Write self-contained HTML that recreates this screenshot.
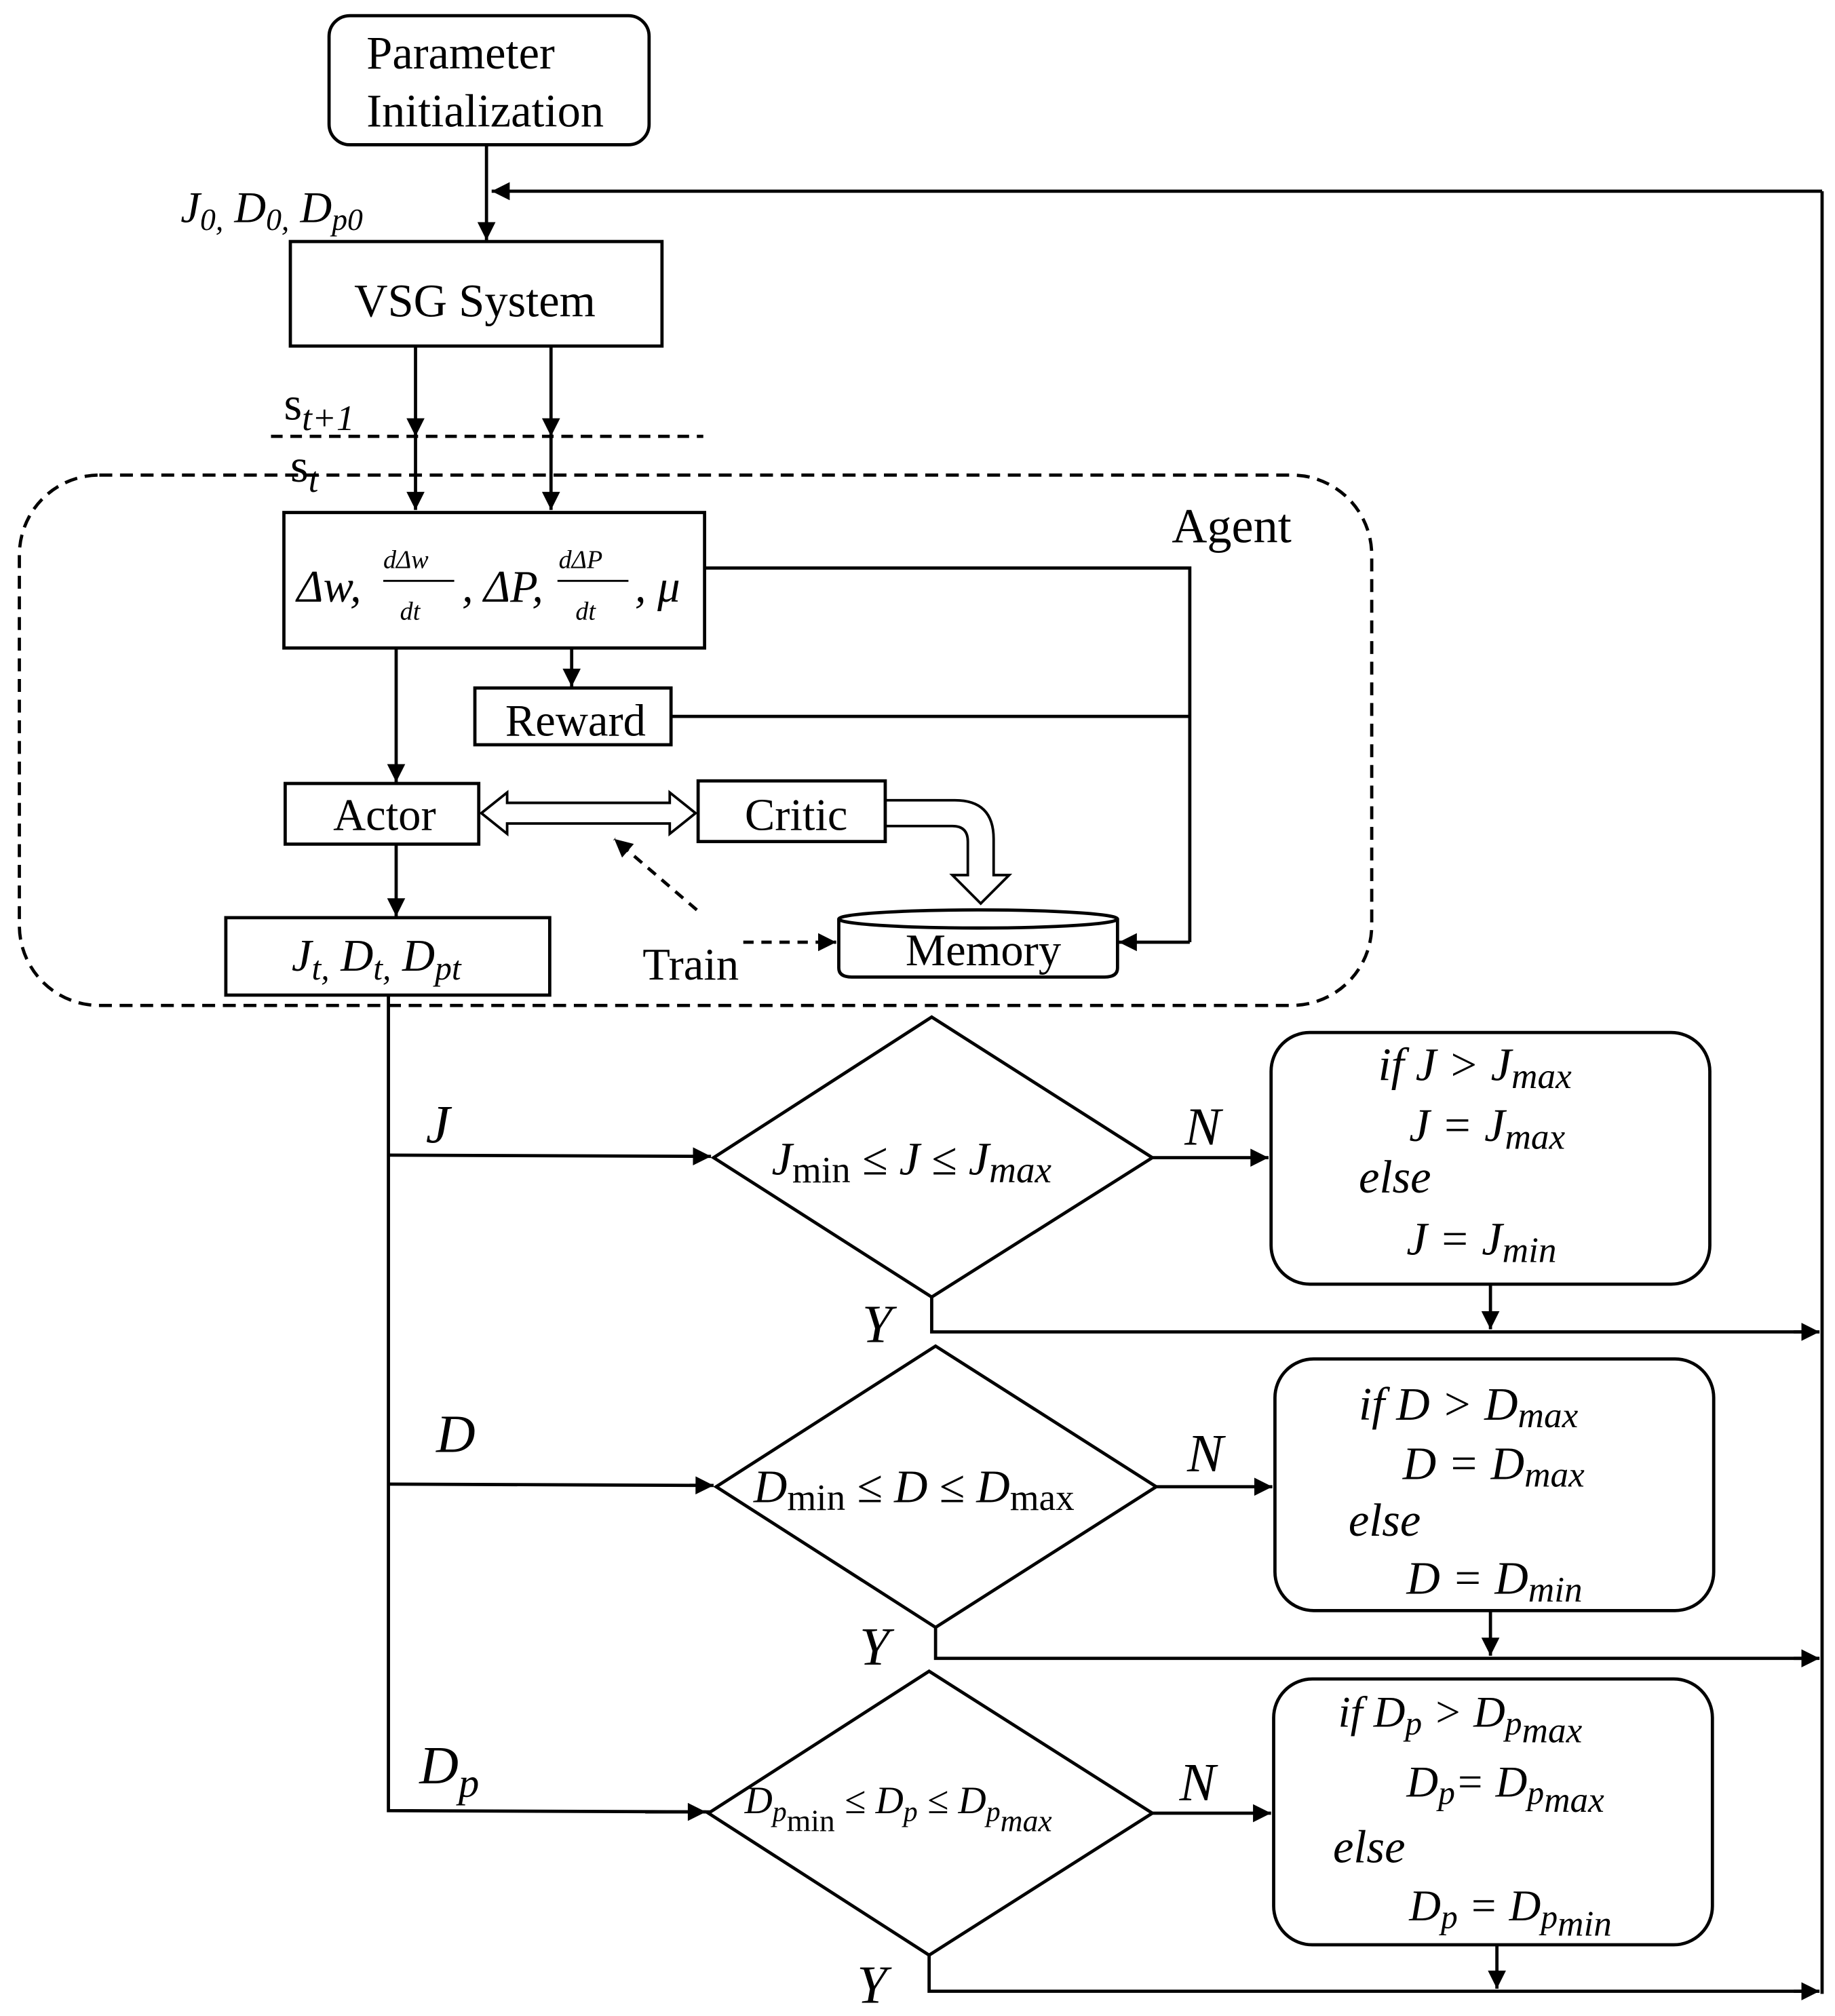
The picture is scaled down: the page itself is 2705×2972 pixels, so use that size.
<!DOCTYPE html>
<html><head><meta charset="utf-8"><style>
html,body{margin:0;padding:0;background:#fff;}
svg{display:block;}
text{font-family:"Liberation Serif",serif;fill:#000;}
.i{font-style:italic;}
</style></head><body>
<svg width="2705" height="2972" viewBox="0 0 1422 1562" xmlns="http://www.w3.org/2000/svg">
<defs>
<marker id="b" viewBox="0 0 10 10" markerWidth="16" markerHeight="14" refX="10" refY="5" orient="auto" markerUnits="userSpaceOnUse"><path d="M0,0 L10,5 L0,10 z" fill="#000"/></marker>
</defs>
<g stroke="#000" stroke-width="2.5" fill="none">
<rect x="255" y="12" width="248" height="100" rx="16"/>
<line x1="377" y1="112" x2="377" y2="186" marker-end="url(#b)"/>
<line x1="1412" y1="148" x2="381" y2="148" marker-end="url(#b)"/>
<line x1="1412" y1="148" x2="1412" y2="1545"/>
<rect x="225" y="187" width="288" height="81"/>
<line x1="322" y1="268" x2="322" y2="338" marker-end="url(#b)"/>
<line x1="427" y1="268" x2="427" y2="338" marker-end="url(#b)"/>
<line x1="322" y1="338" x2="322" y2="395" marker-end="url(#b)"/>
<line x1="427" y1="338" x2="427" y2="395" marker-end="url(#b)"/>
<line x1="210" y1="338" x2="545" y2="338" stroke-dasharray="9,6"/>
<rect x="15" y="368" width="1048" height="411" rx="62" stroke-dasharray="10,6"/>
<rect x="220" y="397" width="326" height="105"/>
<polyline points="546,440 922,440 922,730"/>
<line x1="922" y1="730" x2="867" y2="730" marker-end="url(#b)"/>
<line x1="443" y1="502" x2="443" y2="532" marker-end="url(#b)"/>
<rect x="368" y="533" width="152" height="44"/>
<line x1="520" y1="555" x2="922" y2="555"/>
<line x1="307" y1="502" x2="307" y2="606" marker-end="url(#b)"/>
<rect x="221" y="607" width="150" height="47"/>
<rect x="541" y="605" width="145" height="47"/>
<path d="M373,630 L393,614 L393,622 L519,622 L519,614 L539,630 L519,646 L519,638 L393,638 L393,646 Z" stroke-width="2"/>
<path d="M686,620 L740,620 Q770,620 770,650 L770,678 L782,678 L760,700 L738,678 L750,678 L750,652 Q750,640 738,640 L686,640" stroke-width="2"/>
<path d="M650,712 L650,750 Q650,757 660,757 L856,757 Q866,757 866,750 L866,712"/>
<ellipse cx="758" cy="712" rx="108" ry="7"/>
<line x1="576" y1="730" x2="648" y2="730" stroke-dasharray="8,6" marker-end="url(#b)"/>
<line x1="540" y1="705" x2="476" y2="650" stroke-dasharray="8,6" marker-end="url(#b)"/>
<line x1="307" y1="654" x2="307" y2="710" marker-end="url(#b)"/>
<rect x="175" y="711" width="251" height="60"/>
<polyline points="301,771 301,1403 551,1404"/>
<line x1="301" y1="895" x2="551" y2="896" marker-end="url(#b)"/>
<line x1="301" y1="1150" x2="553" y2="1151" marker-end="url(#b)"/>
<line x1="500" y1="1404" x2="547" y2="1404" marker-end="url(#b)"/>
<polygon points="553,897 722,788 893,897 722,1005"/>
<polygon points="555,1152 725,1043 896,1152 725,1261"/>
<polygon points="549,1405 720,1295 893,1405 720,1515"/>
<line x1="893" y1="897" x2="983" y2="897" marker-end="url(#b)"/>
<line x1="896" y1="1152" x2="986" y2="1152" marker-end="url(#b)"/>
<line x1="893" y1="1405" x2="985" y2="1405" marker-end="url(#b)"/>
<rect x="985" y="800" width="340" height="195" rx="30"/>
<rect x="988" y="1053" width="340" height="195" rx="30"/>
<rect x="987" y="1301" width="340" height="206" rx="30"/>
<polyline points="722,1005 722,1032 1408,1032"/>
<line x1="1390" y1="1032" x2="1410" y2="1032" marker-end="url(#b)"/>
<polyline points="725,1261 725,1285 1408,1285"/>
<line x1="1390" y1="1285" x2="1410" y2="1285" marker-end="url(#b)"/>
<polyline points="720,1515 720,1543 1408,1543"/>
<line x1="1390" y1="1543" x2="1410" y2="1543" marker-end="url(#b)"/>
<line x1="1155" y1="995" x2="1155" y2="1030" marker-end="url(#b)"/>
<line x1="1155" y1="1248" x2="1155" y2="1283" marker-end="url(#b)"/>
<line x1="1160" y1="1507" x2="1160" y2="1541" marker-end="url(#b)"/>
</g>
<g font-size="35">
<text x="284" y="53" font-size="36">Parameter</text>
<text x="284" y="98" font-size="36">Initialization</text>
<text x="140" y="172" class="i" font-size="34">J<tspan font-size="24" dy="6">0,</tspan><tspan dy="-6"> D</tspan><tspan font-size="24" dy="6">0,</tspan><tspan dy="-6"> D</tspan><tspan font-size="24" dy="6">p0</tspan></text>
<text x="368" y="245" text-anchor="middle" font-size="36">VSG System</text>
<text x="220" y="325" font-size="36" font-family="Liberation Sans">s<tspan font-size="28" dy="8" class="i">t+1</tspan></text>
<text x="225" y="373" font-size="36" font-family="Liberation Sans">s<tspan font-size="28" dy="8" class="i">t</tspan></text>
<text x="908" y="420" font-size="38">Agent</text>
<text x="230" y="466" class="i">Δw,</text>
<text x="297" y="440" font-size="20" class="i">dΔw</text>
<line x1="297" y1="450" x2="352" y2="450" stroke="#000" stroke-width="1.5"/>
<text x="310" y="480" font-size="20" class="i">dt</text>
<text x="358" y="466" class="i">, ΔP,</text>
<text x="433" y="440" font-size="20" class="i">dΔP</text>
<line x1="432" y1="450" x2="487" y2="450" stroke="#000" stroke-width="1.5"/>
<text x="446" y="480" font-size="20" class="i">dt</text>
<text x="492" y="466" class="i">, μ⃗</text>
<text x="446" y="570" text-anchor="middle">Reward</text>
<text x="298" y="643" text-anchor="middle">Actor</text>
<text x="617" y="643" text-anchor="middle">Critic</text>
<text x="762" y="748" text-anchor="middle">Memory</text>
<text x="498" y="759">Train</text>
<text x="226" y="752" class="i">J<tspan font-size="26" dy="7">t,</tspan><tspan dy="-7"> D</tspan><tspan font-size="26" dy="7">t,</tspan><tspan dy="-7"> D</tspan><tspan font-size="26" dy="7">pt</tspan></text>
<text x="330" y="885" font-size="42" class="i">J</text>
<text x="338" y="1125" font-size="42" class="i">D</text>
<text x="325" y="1382" font-size="42" class="i">D<tspan font-size="32" dy="10">p</tspan></text>
<text x="918" y="887" font-size="42" class="i">N</text>
<text x="920" y="1140" font-size="42" class="i">N</text>
<text x="914" y="1395" font-size="42" class="i">N</text>
<text x="668" y="1040" font-size="42" class="i">Y</text>
<text x="666" y="1290" font-size="42" class="i">Y</text>
<text x="664" y="1552" font-size="42" class="i">Y</text>
<text x="598" y="910" class="i" font-size="36">J<tspan font-style="normal" font-size="29" dy="6">min</tspan><tspan dy="-6"> ≤ J ≤ J</tspan><tspan font-size="29" dy="6">max</tspan></text>
<text x="584" y="1164" class="i" font-size="36">D<tspan font-style="normal" font-size="29" dy="6">min</tspan><tspan dy="-6"> ≤ D ≤ D</tspan><tspan font-style="normal" font-size="29" dy="6">max</tspan></text>
<text x="577" y="1405" font-size="30" class="i">D<tspan font-size="22" dy="6">p</tspan><tspan font-style="normal" font-size="24" dy="8">min</tspan><tspan dy="-14"> ≤ D</tspan><tspan font-size="22" dy="6">p</tspan><tspan dy="-6"> ≤ D</tspan><tspan font-size="22" dy="6">p</tspan><tspan font-size="24" dy="8">max</tspan></text>
<g class="i" font-size="36">
<text x="1068" y="837">if J &gt; J<tspan font-size="28" dy="6">max</tspan></text>
<text x="1092" y="884">J = J<tspan font-size="28" dy="6">max</tspan></text>
<text x="1053" y="924">else</text>
<text x="1090" y="972">J = J<tspan font-size="28" dy="6">min</tspan></text>
<text x="1053" y="1100">if D &gt; D<tspan font-size="28" dy="6">max</tspan></text>
<text x="1087" y="1146">D = D<tspan font-size="28" dy="6">max</tspan></text>
<text x="1045" y="1190">else</text>
<text x="1090" y="1235">D = D<tspan font-size="28" dy="6">min</tspan></text>
<text x="1037" y="1338" font-size="34">if D<tspan font-size="26" dy="6">p</tspan><tspan dy="-6"> &gt; D</tspan><tspan font-size="26" dy="6">p</tspan><tspan font-size="28" dy="6">max</tspan></text>
<text x="1090" y="1392" font-size="34">D<tspan font-size="26" dy="6">p</tspan><tspan dy="-6">= D</tspan><tspan font-size="26" dy="6">p</tspan><tspan font-size="28" dy="6">max</tspan></text>
<text x="1033" y="1443">else</text>
<text x="1092" y="1488" font-size="34">D<tspan font-size="26" dy="6">p</tspan><tspan dy="-6"> = D</tspan><tspan font-size="26" dy="6">p</tspan><tspan font-size="28" dy="6">min</tspan></text>
</g>
</g>
</svg>
</body></html>
